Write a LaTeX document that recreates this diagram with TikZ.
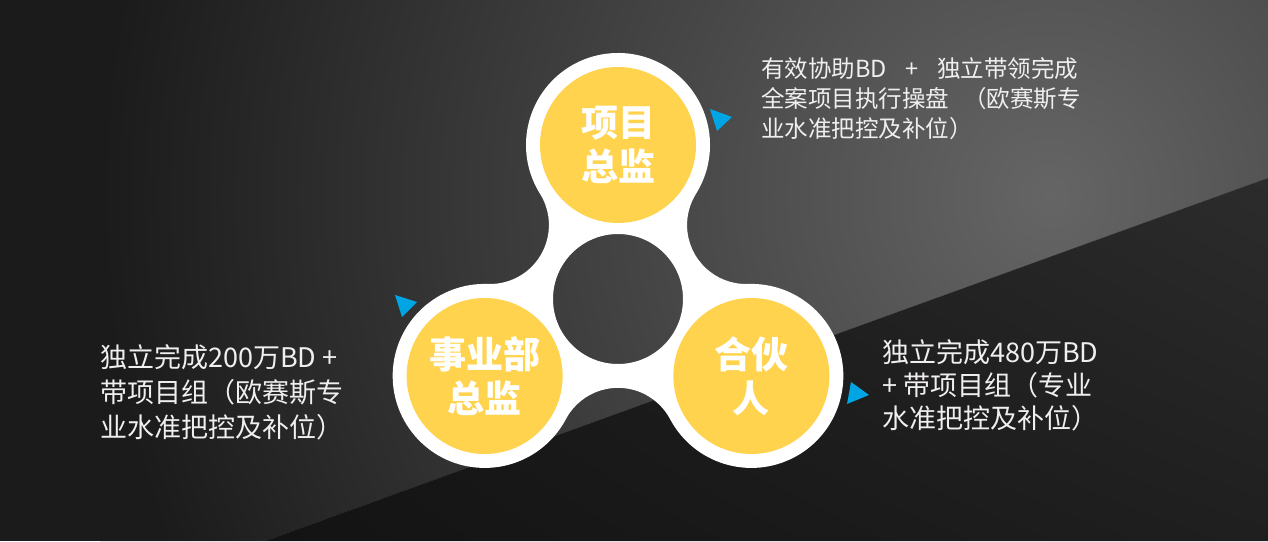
\documentclass[tikz,border=0pt]{standalone}
\usepackage{fontspec}
\newfontfamily\cjk{Noto Sans CJK SC}
\usetikzlibrary{shadings}
\definecolor{bglight}{HTML}{656565}
\definecolor{bgdark}{HTML}{1B1B1B}
\definecolor{lowtl}{HTML}{181818}
\definecolor{lowtr}{HTML}{2C2C2C}
\definecolor{lowbl}{HTML}{131313}
\definecolor{lowbr}{HTML}{1F1F1F}
\definecolor{spinyellow}{HTML}{FFD34E}
\definecolor{spinblue}{HTML}{00A5E3}
\definecolor{notewhite}{HTML}{F0EEEE}

\begin{document}
\begin{tikzpicture}[x=1pt, y=1pt,
    role/.style = {circle, fill=spinyellow, minimum size=156pt, inner sep=0pt,
                   text=white, align=center, font=\cjk\bfseries\fontsize{37}{44}\selectfont},
    note/.style = {text=notewhite, align=left, inner sep=0pt, anchor=west},
    pointer/.style = {fill=spinblue},
    spin/.style = {fill=white, even odd rule}]
    \useasboundingbox (0,0) rectangle (1268,541);
    % background
    \begin{scope}
        \clip (0,541) -- (1268,541) -- (1268,363) -- (265,0) -- (0,0) -- cycle;
        \fill[bgdark] (0,0) rectangle (1268,541);
        \shade[inner color=bglight, outer color=bgdark] (100,-605) rectangle (2000,1295);
    \end{scope}
    \shade[upper left=lowtl, upper right=lowtr, lower left=lowbl, lower right=lowbr]
        (265,0) -- (1268,363) -- (1268,0) -- cycle;
    % spinner
    \coordinate (hub) at (618,242);
    \path[spin] (hub) ++(90:154) ++(-32:92)
        arc[start angle=-32, end angle=212, radius=92]
        arc[start angle=32, end angle=-92, radius=59]
        arc[start angle=88, end angle=332, radius=92]
        arc[start angle=152, end angle=28, radius=59]
        arc[start angle=208, end angle=452, radius=92]
        arc[start angle=272, end angle=148, radius=59]
        -- cycle
        (hub) circle[radius=65];
    \node[role] (xm) at ([shift={(90:154)}]hub) {项目\\总监};
    \node[role] (syb) at ([shift={(210:154)}]hub) {事业部\\总监};
    \node[role] (hhr) at ([shift={(330:154)}]hub) {合伙\\人};
    % pointers
    \fill[pointer] (710,432) -- (732,424) -- (717,410) -- cycle;
    \fill[pointer] (395,246) -- (417,239) -- (402,224) -- cycle;
    \fill[pointer] (851,159) -- (869,146) -- (847,137) -- cycle;
    % notes
    \node[note, font=\cjk\fontsize{23.5}{30}\selectfont] (xmnote) at (761,442)
        {有效协助BD\hspace{0.8em}+\hspace{0.8em}独立带领完成\\全案项目执行操盘\hspace{0.6em}（欧赛斯专\\业水准把控及补位）};
    \node[note, font=\cjk\fontsize{27}{35}\selectfont] (sybnote) at (100,149)
        {独立完成200万BD +\\带项目组（欧赛斯专\\业水准把控及补位）};
    \node[note, font=\cjk\fontsize{27}{33}\selectfont] (hhrnote) at (882,156)
        {独立完成480万BD\\+ 带项目组（专业\\水准把控及补位）};
\end{tikzpicture}
\end{document}
